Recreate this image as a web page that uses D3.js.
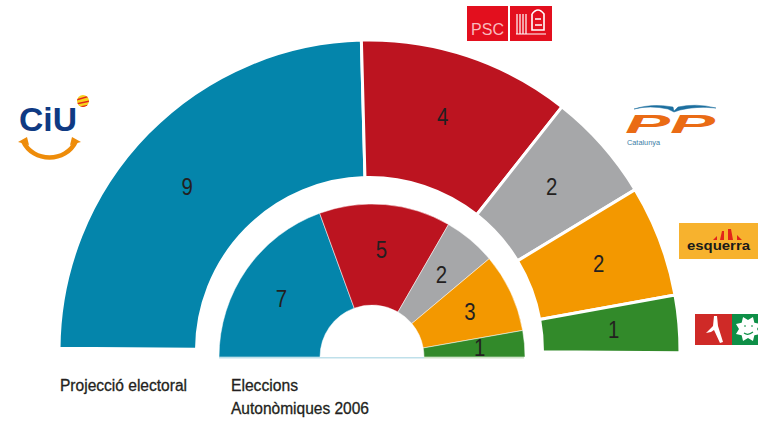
<!DOCTYPE html>
<html>
<head>
<meta charset="utf-8">
<script src="https://cdn.jsdelivr.net/npm/d3@7"></script>
<style>
  html, body { margin: 0; padding: 0; background: #fff; }
  svg { display: block; }
  text { font-family: "Liberation Sans", Arial, sans-serif; }
</style>
</head>
<body>
<div id="chart"></div>
<script>
// Seats per party
const parties = ["CiU", "PSC", "PP", "ERC", "ICV"];
const projeccio = [9, 4, 2, 2, 1];
const eleccions = [7, 5, 2, 3, 1];
// The outer slices in the picture are not quite proportional, so their spans are read off it (degrees)
const projeccioSpan = [88.1, 39.8, 20.5, 20.9, 10.7];
const colors = ["#0485ab", "#bc1420", "#a6a7a9", "#f39800", "#328a2a"];
const ringLabels = ["Projecció electoral", "Eleccions", "Autonòmiques 2006"];

const svg = d3.select("#chart")
  .append("svg")
  .attr("width", 758)
  .attr("height", 421);

const deg = Math.PI / 180;

// Draw one half ring, sized by spans, labelled by seats
function drawRing(spans, seats, o) {
  const pie = d3.pie()
    .sort(null)
    .startAngle((-90 + o.rotate) * deg)
    .endAngle((90 + o.rotate) * deg)(spans);

  const arc = d3.arc().innerRadius(o.inner).outerRadius(o.outer);

  const g = svg.append("g").attr("transform", "translate(" + o.cx + "," + o.cy + ")");

  g.selectAll("path")
    .data(pie)
    .enter()
    .append("path")
    .attr("d", arc)
    .attr("fill", function (d, i) { return colors[i]; })
    .attr("stroke", "#fff")
    .attr("stroke-width", o.gap);

  g.selectAll("text")
    .data(pie)
    .enter()
    .append("text")
    .attr("transform", function (d, i) {
      const mid = (d.startAngle + d.endAngle) / 2 + o.nudge[i] * deg;
      return "translate(" + d3.pointRadial(mid, o.labelR) + ") scale(0.85,1)";
    })
    .attr("text-anchor", "middle")
    .attr("dy", "0.36em")
    .attr("font-size", 24)
    .attr("fill", "#231f20")
    .text(function (d, i) { return seats[i]; });
}

drawRing(projeccioSpan, projeccio, {
  cx: 369.5, cy: 350.5, inner: 173, outer: 310.5, labelR: 245, rotate: 0.4, gap: 3, nudge: [-2.5, -1, -0.5, 0, 0]
});
drawRing(eleccions, eleccions, {
  cx: 372, cy: 357, inner: 52, outer: 153, labelR: 108, rotate: 0, gap: 0.5, nudge: [-2, 0, 0, 0, 0]
});

// Pale fringe under the inner ring
svg.append("rect").attr("x", 219).attr("y", 357).attr("width", 205).attr("height", 1.5).attr("fill", "#bfe0ea");
svg.append("rect").attr("x", 424).attr("y", 357).attr("width", 100).attr("height", 1.5).attr("fill", "#cfe3c8");

// Ring captions
svg.append("text").attr("x", 60).attr("y", 391).attr("font-size", 16).attr("textLength", 127)
  .attr("lengthAdjust", "spacingAndGlyphs").attr("fill", "#231f20").attr("stroke", "#231f20").attr("stroke-width", 0.3).text(ringLabels[0]);
svg.append("text").attr("x", 231).attr("y", 391).attr("font-size", 16).attr("textLength", 67)
  .attr("lengthAdjust", "spacingAndGlyphs").attr("fill", "#231f20").attr("stroke", "#231f20").attr("stroke-width", 0.3).text(ringLabels[1]);
svg.append("text").attr("x", 231).attr("y", 414).attr("font-size", 16).attr("textLength", 138)
  .attr("lengthAdjust", "spacingAndGlyphs").attr("fill", "#231f20").attr("stroke", "#231f20").attr("stroke-width", 0.3).text(ringLabels[2]);

// CiU logo
const ciu = svg.append("g");
ciu.append("text").attr("x", 19).attr("y", 131).attr("font-size", 33).attr("font-weight", "bold")
  .attr("textLength", 58).attr("lengthAdjust", "spacingAndGlyphs").attr("fill", "#0f3a83").text("CiU");
ciu.append("path")
  .attr("d", "M23,141 C33,163 66,163 76,141")
  .attr("fill", "none").attr("stroke", "#ee8c0a").attr("stroke-width", 4.5);
ciu.append("path").attr("d", "M18,142 L27,137 L29,145 Z").attr("fill", "#ee8c0a");
ciu.append("path").attr("d", "M81,142 L72,137 L70,145 Z").attr("fill", "#ee8c0a");
ciu.append("clipPath").attr("id", "ball").append("circle").attr("cx", 83).attr("cy", 101).attr("r", 6);
ciu.append("circle").attr("cx", 83).attr("cy", 101).attr("r", 6).attr("fill", "#f7d21c");
ciu.append("path").attr("d", "M76,100 L90,96 M76,104 L90,101 M76,108 L90,105")
  .attr("clip-path", "url(#ball)")
  .attr("stroke", "#e2231a").attr("stroke-width", 1.6);

// PSC logo
const psc = svg.append("g");
psc.append("rect").attr("x", 467).attr("y", 6).attr("width", 41).attr("height", 35).attr("fill", "#e30f1e");
psc.append("rect").attr("x", 510).attr("y", 6).attr("width", 42).attr("height", 35).attr("fill", "#e30f1e");
psc.append("text").attr("x", 471).attr("y", 35).attr("font-size", 16)
  .attr("textLength", 33).attr("lengthAdjust", "spacingAndGlyphs").attr("fill", "#f9b9bd").text("PSC");
psc.append("path")
  .attr("d", "M517,14 V34 M520,14 V34 M523,14 V34 M526,14 V34 M516,34 H546")
  .attr("stroke", "#fff").attr("stroke-width", 1.2);
psc.append("path")
  .attr("d", "M532,14 V30 H544 V14 Q538,6 532,14 M535,19 H541 M535,25 H542")
  .attr("fill", "none").attr("stroke", "#fff").attr("stroke-width", 1.6);

// PP logo
const pp = svg.append("g");
pp.append("path")
  .attr("d", "M634,109 Q652,103 673,107 L674,111 L678,107 Q696,103 716,108 Q696,106 680,110 L674,112 L668,109 Q650,105 634,109 Z")
  .attr("fill", "#1c6f9f").attr("stroke", "#1c6f9f").attr("stroke-width", 0.5);
pp.append("text").attr("x", 625).attr("y", 133).attr("font-size", 26).attr("font-weight", "bold")
  .attr("font-style", "italic").attr("textLength", 90).attr("lengthAdjust", "spacingAndGlyphs")
  .attr("fill", "#ea6b14").text("PP");
pp.append("text").attr("x", 627).attr("y", 145).attr("font-size", 6.5)
  .attr("textLength", 33).attr("lengthAdjust", "spacingAndGlyphs").attr("fill", "#3b7ea6").text("Catalunya");

// Esquerra logo
const erc = svg.append("g");
erc.append("rect").attr("x", 679).attr("y", 223).attr("width", 79).attr("height", 36).attr("fill", "#f7b22e");
erc.append("path")
  .attr("d", "M713,240 L717,236 V240 Z M720,240 L722,231 H724 V240 Z M728,240 V229 L731,229 L733,240 Z M737,240 V235 L742,240 Z")
  .attr("fill", "#e2231a");
erc.append("text").attr("x", 687).attr("y", 250).attr("font-size", 12).attr("font-weight", "bold")
  .attr("textLength", 63).attr("lengthAdjust", "spacingAndGlyphs").attr("fill", "#1a1a1a").text("esquerra");

// ICV-EUiA logo
const icv = svg.append("g");
icv.append("rect").attr("x", 695).attr("y", 314).attr("width", 37).attr("height", 31).attr("fill", "#cf2a27");
icv.append("rect").attr("x", 732).attr("y", 314).attr("width", 26).attr("height", 31).attr("fill", "#0e8f47");
icv.append("path")
  .attr("d", "M714,316 L713,326 L706,333 L711,332 L714,330 L720,343 L723,342 L718,326 L717,316 Z")
  .attr("fill", "#fff");
icv.append("path")
  .attr("d", d3.range(0, 16).map(function (i) {
    const a = i * 22.5 * deg;
    const r = i % 2 ? 13 : 9;
    return (i ? "L" : "M") + (748 + r * Math.cos(a)) + "," + (329 + r * Math.sin(a));
  }).join("") + "Z")
  .attr("fill", "#fff");
icv.append("path")
  .attr("d", "M744,326 h2 M751,326 h2 M744,333 Q748,336 753,332")
  .attr("fill", "none").attr("stroke", "#0e8f47").attr("stroke-width", 1.2);
</script>
</body>
</html>
